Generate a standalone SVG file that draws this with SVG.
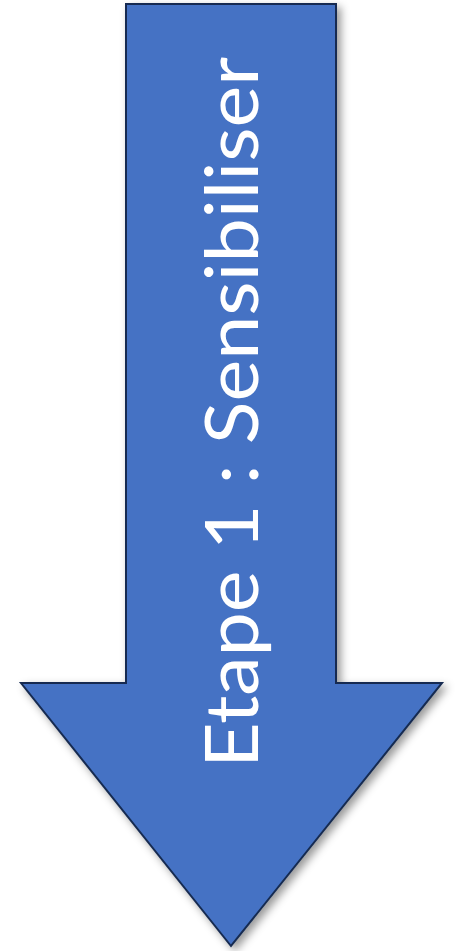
<svg xmlns="http://www.w3.org/2000/svg" width="457" height="951" viewBox="0 0 457 951">
<style>
.arrow{fill:#4472C4;stroke:#172C51;stroke-width:2;stroke-linejoin:miter}
.lbl{fill:#FFFFFF;font-family:"Lato","Liberation Sans",sans-serif;font-weight:400;font-size:74px}
</style>
<defs>
<filter id="sh" x="-10%" y="-10%" width="130%" height="130%">
<feDropShadow dx="4" dy="4" stdDeviation="4" flood-color="#000" flood-opacity="0.4"/>
</filter>
</defs>
<g id="arrow-node">
<path class="arrow" filter="url(#sh)" d="M126,4 L336,4 L336,683 L442,683 L231,946 L21,683 L126,683 Z"/>
<text class="lbl" transform="translate(258,768) rotate(-90)" textLength="711" lengthAdjust="spacingAndGlyphs">Etape 1 : Sensibiliser</text>
</g>
<g id="connectors"/>
</svg>
